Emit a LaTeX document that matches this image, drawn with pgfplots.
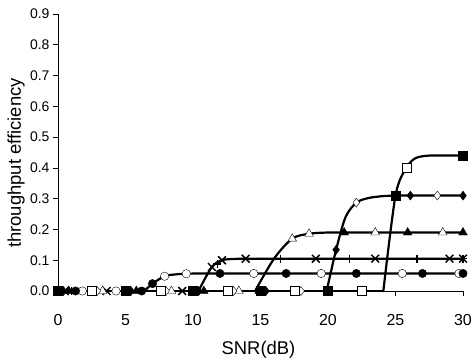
\documentclass[border=0pt]{standalone}
\usepackage{fontspec}
\setmainfont{Liberation Sans}
\usepackage{pgfplots}
\pgfplotsset{compat=1.18}
\pgfplotsset{
  curve/.style={black, line width=2.2pt, smooth, tension=0.5, no markers},
  mk/.style={only marks, black, mark options={line width=0.9pt, solid, draw=black}},
  openm/.style={mk, mark options={fill=white}},
  fillm/.style={mk, mark options={fill=black}},
}
\begin{document}
\begin{tikzpicture}
\path[use as bounding box] (-58bp,-69bp) rectangle (415bp,291bp);
\begin{axis}[
  at={(0,0)}, anchor=south west,
  scale only axis, width=405bp, height=277bp,
  xmin=0, xmax=30, ymin=0, ymax=0.9,
  clip=false,
  axis lines=left, axis line style={black, line width=0.6pt, -},
  tick align=outside, major tick length=5bp,
  tick style={black, line width=0.6pt},
  xtick={0,5,10,15,20,25,30},
  ytick={0,0.1,0.2,0.3,0.4,0.5,0.6,0.7,0.8,0.9},
  yticklabel style={font=\fontsize{14}{16}\selectfont, /pgf/number format/fixed, /pgf/number format/fixed zerofill, /pgf/number format/precision=1, /pgf/number format/assume math mode=true},
  xticklabel style={font=\fontsize{16}{18}\selectfont, yshift=-15bp, /pgf/number format/assume math mode=true},
  xlabel={SNR(dB)},
  ylabel={throughput efficiency},
  label style={font=\fontsize{18.5}{21}\selectfont},
  xlabel style={at={(axis description cs:0.495,-0.213)}, anchor=center},
  ylabel style={at={(axis description cs:-0.1037,0.462)}, anchor=center},
]
% ---- curves ----
\addplot[black, line width=2.2pt, sharp plot, no markers] coordinates {(0,0) (24.1,0)};
\addplot[curve] coordinates {(6.4,0) (7,0.024) (7.9,0.048) (8.7,0.054) (9.5,0.056) (10.5,0.057) (11.5,0.057) (30,0.057)};
\addplot[curve] coordinates {(10.4,0) (11.4,0.078) (12.15,0.1) (13,0.104) (13.9,0.105) (15,0.105) (30,0.105)};
\addplot[curve] coordinates {(14.6,0) (16,0.105) (17.35,0.17) (18.6,0.186) (20,0.19) (21.5,0.19) (30,0.19)};
\addplot[curve] coordinates {(19.9,0) (20.6,0.134) (21.3,0.24) (22.1,0.287) (23,0.302) (24,0.308) (25,0.31) (26,0.31) (30,0.31)};
\addplot[curve] coordinates {(24.1,0) (25,0.31) (25.8,0.40) (26.5,0.432) (27.5,0.44) (28.5,0.44) (30,0.44)};
% ---- marks ----
% circles
\addplot[openm, mark=*, mark size=4.2bp] coordinates {(1.8,0) (4.3,0) (7.9,0.048) (9.5,0.056) (14.5,0.057) (19.5,0.057) (25.5,0.057) (29.7,0.057)};
\addplot[fillm, mark=*, mark size=4.2bp] coordinates {(1.3,0) (6.2,0) (7,0.024) (12,0.057) (16.9,0.057) (22.1,0.057) (27,0.057) (30,0.057)};
% x and +
\addplot[mk, mark=x, mark size=5.5bp, mark options={line width=1.5pt}] coordinates {(0.5,0) (3.6,0) (9.2,0) (11.4,0.078) (12.15,0.1) (13.9,0.105) (19.1,0.105) (23.5,0.105) (29,0.105) (30,0.105)};
\addplot[mk, mark=+, mark size=4bp, mark options={line width=1.5pt}] coordinates {(1,0) (5,0) (10.5,0) (11.8,0.088) (16.5,0.105) (21.6,0.105) (26.6,0.105) (30,0.105)};
% triangles
\addplot[openm, mark=triangle*, mark size=5bp] coordinates {(3.3,0) (8.4,0) (13.4,0) (17.35,0.17) (18.6,0.186) (23.5,0.19) (28.5,0.19)};
\addplot[fillm, mark=triangle*, mark size=5bp] coordinates {(0.8,0) (5.8,0) (10.8,0) (14.9,0) (21.2,0.19) (25.9,0.19) (30,0.19)};
% diamonds
\addplot[openm, mark=diamond*, mark size=4.5bp] coordinates {(2.9,0) (8,0) (13,0) (18,0) (22.1,0.287) (28.1,0.31)};
\addplot[fillm, mark=diamond*, mark size=4.5bp] coordinates {(0.4,0) (5.4,0) (10.4,0) (15.4,0) (20.6,0.134) (26.1,0.31) (30,0.31)};
% squares
\addplot[openm, mark=square*, mark size=4.5bp] coordinates {(2.5,0) (7.6,0) (12.6,0) (17.5,0) (22.5,0) (25.8,0.40)};
\addplot[fillm, mark=square*, mark size=4.5bp] coordinates {(0,0) (5,0) (10,0) (15,0) (20,0) (25,0.31) (30,0.44)};
\end{axis}
\end{tikzpicture}
\end{document}
